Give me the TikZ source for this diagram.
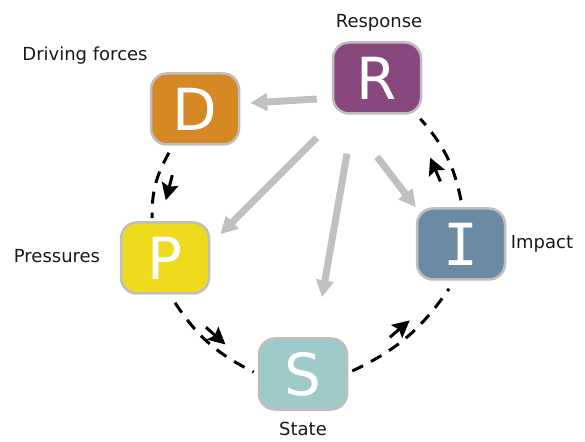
\documentclass[tikz,border=0pt]{standalone}
\usepackage{fontspec}
\setmainfont{DejaVu Sans}
\newfontfamily\barfont{DejaVu Sans Mono}
\usetikzlibrary{arrows.meta,decorations.markings}
\definecolor{drvorange}{RGB}{214,136,36}
\definecolor{rspurple}{RGB}{136,72,126}
\definecolor{prsyellow}{RGB}{239,219,30}
\definecolor{impblue}{RGB}{107,139,164}
\definecolor{stteal}{RGB}{158,202,201}
\definecolor{linkgray}{RGB}{192,192,192}
\definecolor{rimgray}{RGB}{190,190,190}
\tikzset{
  letter/.style={draw=rimgray,line width=2.5pt,rounded corners=16pt,minimum width=88pt,minimum height=71pt,inner sep=0pt,text=white,font=\fontsize{58}{58}\selectfont},
  tag/.style={font=\fontsize{18}{18}\selectfont,text=black!90},
  link/.style={draw=linkgray,line width=7pt,-{Triangle[length=17pt,width=17pt]}},
  loopline/.style n args={2}{draw,line width=3pt,dash pattern=on 12pt off 9pt,
    decoration={markings,mark=at position #1 with {\draw[solid,line width=3pt,-{Stealth[length=17pt,width=17pt,inset=3pt]}] (-13pt,#2) -- (13pt,#2);}},
    postaction=decorate}
}
\begin{document}
\begin{tikzpicture}[x=1pt,y=1pt]
\useasboundingbox (0,0) rectangle (585,441);
% DPSIR boxes
\node[letter,fill=drvorange] (D) at (195,332) {D};
\node[letter,fill=rspurple] (R) at (377,363) {R};
\node[letter,fill=prsyellow] (P) at (165,183) {P};
\node[letter,fill=impblue] (I) at (461,197) {\barfont I};
\node[letter,fill=stteal] (S) at (303,67) {S};
% labels
\node[tag] at (85,385) {Driving forces};
\node[tag] at (379,418) {Response};
\node[tag] at (57,185) {Pressures};
\node[tag] at (542,197) {Impact};
\node[tag] at (303,12) {State};
% response feeds back
\draw[link] ([xshift=-15pt,yshift=-21pt]R.west) -- ([xshift=10pt,yshift=6pt]D.east);
\draw[link] ([xshift=-15pt,yshift=-23pt]R.south west) -- ([xshift=10pt,yshift=-13pt]P.north east);
\draw[link] ([xshift=-30pt,yshift=-39pt]R.south) -- ([xshift=19pt,yshift=40pt]S.north);
\draw[link] ([yshift=-42pt]R.south) -- (I.north west);
% causal chain
\draw[loopline={0.5}{14pt}] ([xshift=-26pt,yshift=-7pt]D.south) to[bend right=15] ([xshift=-13pt,yshift=3pt]P.north);
\draw[loopline={0.5}{10pt}] ([xshift=10pt,yshift=-8pt]P.south) to[bend right=15] ([xshift=-4pt,yshift=2pt]S.west);
\draw[loopline={0.5}{11pt}] ([xshift=4pt,yshift=3pt]S.east) to[bend right=15] ([xshift=-12pt,yshift=-8pt]I.south);
\draw[loopline={0.42}{16pt}] ([yshift=7pt]I.north) to[bend right=15] ([xshift=-2pt,yshift=-4pt]R.south east);
\end{tikzpicture}
\end{document}
